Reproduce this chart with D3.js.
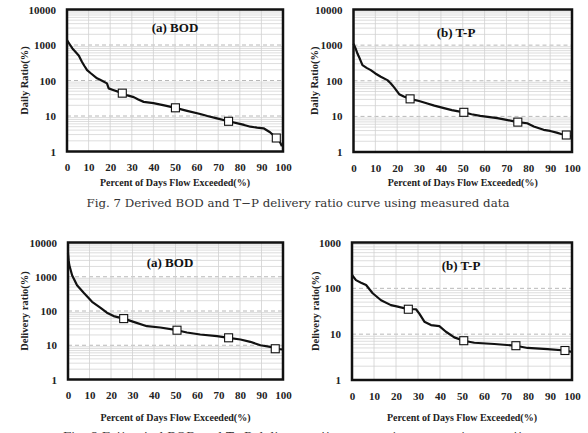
<!DOCTYPE html>
<html>
<head>
<meta charset="utf-8">
<script src="https://cdn.jsdelivr.net/npm/d3@7"></script>
<style>
  body { margin: 0; background: #fff; }
  svg { display: block; }
  .tick text { font-family: "Liberation Serif", "Times New Roman", serif; font-weight: bold; font-size: 11px; fill: #222; }
</style>
</head>
<body>
<svg id="chart"></svg>
<script>
var width = 588, height = 433;

// ---- data ----
var xTicks = [0, 10, 20, 30, 40, 50, 60, 70, 80, 90, 100];
var yTicks4 = [1, 10, 100, 1000, 10000];
var yTicks3 = [1, 10, 100, 1000];

// Fig 7 (a) BOD, measured
var bodMeasPct = [0, 1, 2.5, 4.6, 5.5, 6.9, 8, 9.3, 11, 13.9, 16, 18.5, 19.3, 21, 25.6, 28, 30.9, 33, 35.5, 40, 45, 50.2, 55.6, 61.7, 65, 69.4, 74.8, 80, 82, 84.9, 88, 91, 94, 96.9, 98.5, 99.5];
var bodMeasVal = [1370, 1100, 800, 577, 500, 338, 260, 196, 160, 115, 100, 83, 60, 55, 44, 38, 34, 29, 25, 23, 20, 17, 14, 11.4, 10, 8.6, 7.1, 6, 5.6, 5.0, 4.7, 4.5, 3.5, 2.4, 1.9, 1.4];
var bodMeasMarkPct = [25.6, 50.2, 74.8, 96.9];
var bodMeasMarkVal = [44, 17, 7.1, 2.4];

// Fig 7 (b) T-P, measured
var tpMeasPct = [0, 1, 1.8, 3, 4.1, 6, 7.9, 10, 12.5, 15.5, 17, 18.6, 20.9, 23, 25.9, 30, 33.8, 37, 41.4, 45, 50.5, 54, 58, 65.8, 70, 75.2, 79.5, 82.5, 87, 90, 93, 95, 97.4, 100];
var tpMeasVal = [1100, 800, 580, 400, 274, 230, 199, 160, 129, 104, 85, 65, 42, 36, 31, 27, 23, 20, 17, 15, 13, 11.5, 10.3, 8.9, 8, 6.9, 6.4, 5.2, 4.2, 3.9, 3.5, 3.2, 3.0, 2.7];
var tpMeasMarkPct = [25.9, 50.5, 75.2, 97.4];
var tpMeasMarkVal = [31, 13, 6.9, 3.0];

// Fig 8 (a) BOD, estimated
var bodEstPct = [0, 0.3, 0.6, 1.9, 4.2, 7.3, 11.2, 15, 18.1, 21.2, 25.9, 30.5, 36.7, 42.9, 50.7, 55.3, 61.5, 69.3, 74.7, 80.2, 84.8, 89.5, 94.1, 96.4, 100];
var bodEstVal = [4800, 3000, 2180, 1110, 566, 340, 185, 126, 89, 71, 60, 48, 36, 33, 27.5, 23.6, 20.6, 18.4, 16.5, 14.7, 12.6, 10, 9, 7.9, 7.5];
var bodEstMarkPct = [25.9, 50.7, 74.7, 96.4];
var bodEstMarkVal = [60, 27.5, 16.5, 7.9];

// Fig 8 (b) T-P, estimated
var tpEstPct = [0, 1.8, 4.1, 6.4, 9.4, 13.2, 17.7, 20.8, 25.6, 29.1, 30.6, 32.9, 35.9, 39.7, 42.7, 46.5, 50.8, 55.6, 64.7, 74.5, 79.8, 88.9, 96.8, 100];
var tpEstVal = [195, 151, 133, 118, 78, 55, 43, 40, 35, 35, 28, 18.7, 15.8, 15, 11.3, 8.5, 7.2, 6.5, 6.1, 5.6, 5.0, 4.7, 4.4, 4.1];
var tpEstMarkPct = [25.6, 50.8, 74.5, 96.8];
var tpEstMarkVal = [35, 7.2, 5.6, 4.4];

var xTitle = "Percent of Days Flow Exceeded(%)";
var caption7 = "Fig. 7 Derived BOD and T\u2212P delivery ratio curve using measured data";
var caption8 = "Fig. 8 Estimated BOD and T\u2212P delivery ratio curve using regression equation";

var svg = d3.select("#chart").attr("width", width).attr("height", height);
svg.append("rect").attr("width", width).attr("height", height).attr("fill", "#fff");

var serif = "'Liberation Serif', 'Times New Roman', serif";

function drawPanel(p) {
    var x = d3.scaleLinear().domain([0, 100]).range([p.left, p.right]);
    var y = d3.scaleLog().domain([1, p.yMax]).range([p.bottom, p.top]);
    var g = svg.append("g");

    // minor horizontal grid
    var minor = [];
    for (var d = 1; d < p.yMax; d *= 10) {
        for (var k = 2; k <= 9; k++) minor.push(d * k);
    }
    g.selectAll(".hminor").data(minor).enter().append("line")
        .attr("x1", p.left).attr("x2", p.right)
        .attr("y1", function (v) { return y(v); })
        .attr("y2", function (v) { return y(v); })
        .attr("stroke", "#d4d4d4").attr("stroke-width", 0.8);

    // decade lines, dashed
    g.selectAll(".hmajor").data(p.yTicks.slice(1, -1)).enter().append("line")
        .attr("x1", p.left).attr("x2", p.right)
        .attr("y1", function (v) { return y(v); })
        .attr("y2", function (v) { return y(v); })
        .attr("stroke", "#b8b8b8").attr("stroke-width", 1)
        .attr("stroke-dasharray", "4,3");

    // vertical grid
    g.selectAll(".vgrid").data(xTicks.slice(1, -1)).enter().append("line")
        .attr("y1", p.top).attr("y2", p.bottom)
        .attr("x1", function (v) { return x(v); })
        .attr("x2", function (v) { return x(v); })
        .attr("stroke", "#d0d0d0").attr("stroke-width", 0.8);

    // axes
    var ax = g.append("g").attr("transform", "translate(0," + p.bottom + ")")
        .call(d3.axisBottom(x).tickValues(xTicks).tickSize(0).tickPadding(p.xPad).tickFormat(d3.format("d")));
    ax.select(".domain").remove();
    var ay = g.append("g").attr("transform", "translate(" + p.left + ",0)")
        .call(d3.axisLeft(y).tickValues(p.yTicks).tickSize(0).tickPadding(11).tickFormat(d3.format("d")));
    ay.select(".domain").remove();

    // curve
    var pts = p.pct.map(function (v, i) { return [v, p.val[i]]; });
    var line = d3.line()
        .x(function (d) { return x(d[0]); })
        .y(function (d) { return y(d[1]); });
    g.append("path").datum(pts)
        .attr("d", line)
        .attr("fill", "none").attr("stroke", "#111")
        .attr("stroke-width", 2.2).attr("stroke-linejoin", "round");

    // frame
    g.append("rect")
        .attr("x", p.left).attr("y", p.top)
        .attr("width", p.right - p.left).attr("height", p.bottom - p.top)
        .attr("fill", "none").attr("stroke", "#111").attr("stroke-width", 2.5);

    // markers
    var marks = p.markPct.map(function (v, i) { return [v, p.markVal[i]]; });
    g.selectAll(".mark").data(marks).enter().append("rect")
        .attr("x", function (d) { return x(d[0]) - 4; })
        .attr("y", function (d) { return y(d[1]) - 4; })
        .attr("width", 8).attr("height", 8)
        .attr("fill", "#fff").attr("stroke", "#111").attr("stroke-width", 1.1);

    // panel title
    g.append("text")
        .attr("x", p.labelX).attr("y", p.labelY)
        .attr("text-anchor", "middle")
        .style("font-family", serif).style("font-weight", "bold").style("font-size", "13px")
        .attr("fill", "#111")
        .text(p.label);

    // axis titles
    g.append("text")
        .attr("x", (p.left + p.right) / 2).attr("y", p.xTitleY)
        .attr("text-anchor", "middle")
        .attr("textLength", 150).attr("lengthAdjust", "spacingAndGlyphs")
        .style("font-family", serif).style("font-weight", "bold").style("font-size", "10px")
        .attr("fill", "#222")
        .text(xTitle);
    g.append("text")
        .attr("transform", "translate(" + p.yTitleX + "," + ((p.top + p.bottom) / 2) + ") rotate(-90)")
        .attr("text-anchor", "middle")
        .style("font-family", serif).style("font-weight", "bold").style("font-size", "10.5px")
        .attr("fill", "#222")
        .text(p.yTitle);
}

drawPanel({left: 67, right: 283, top: 9.5, bottom: 151.5, yMax: 10000, yTicks: yTicks4, xPad: 12,
    pct: bodMeasPct, val: bodMeasVal, markPct: bodMeasMarkPct, markVal: bodMeasMarkVal,
    label: "(a) BOD", labelX: 175, labelY: 32, xTitleY: 186, yTitleX: 28, yTitle: "Daily Ratio(%)"});

drawPanel({left: 353.5, right: 572, top: 9.5, bottom: 152, yMax: 10000, yTicks: yTicks4, xPad: 12,
    pct: tpMeasPct, val: tpMeasVal, markPct: tpMeasMarkPct, markVal: tpMeasMarkVal,
    label: "(b) T-P", labelX: 456, labelY: 37, xTitleY: 186, yTitleX: 318, yTitle: "Daily Ratio(%)"});

drawPanel({left: 68, right: 283, top: 242.5, bottom: 379.5, yMax: 10000, yTicks: yTicks4, xPad: 12,
    pct: bodEstPct, val: bodEstVal, markPct: bodEstMarkPct, markVal: bodEstMarkVal,
    label: "(a) BOD", labelX: 170, labelY: 267, xTitleY: 421, yTitleX: 28, yTitle: "Delivery ratio(%)"});

drawPanel({left: 352, right: 572, top: 242.5, bottom: 380, yMax: 1000, yTicks: yTicks3, xPad: 12,
    pct: tpEstPct, val: tpEstVal, markPct: tpEstMarkPct, markVal: tpEstMarkVal,
    label: "(b) T-P", labelX: 461, labelY: 270, xTitleY: 421, yTitleX: 319, yTitle: "Delivery ratio(%)"});

// captions
svg.append("text")
    .attr("x", 298).attr("y", 207)
    .attr("text-anchor", "middle")
    .attr("textLength", 423).attr("lengthAdjust", "spacingAndGlyphs")
    .style("font-family", "'DejaVu Serif', serif").style("font-size", "11.5px")
    .attr("fill", "#333")
    .text(caption7);

// the second caption runs off the bottom edge, as in the source figure
svg.append("text")
    .attr("x", 300).attr("y", 440)
    .attr("text-anchor", "middle")
    .attr("textLength", 474).attr("lengthAdjust", "spacingAndGlyphs")
    .style("font-family", "'DejaVu Serif', serif").style("font-size", "11.5px")
    .attr("fill", "#333")
    .text(caption8);
</script>
</body>
</html>
